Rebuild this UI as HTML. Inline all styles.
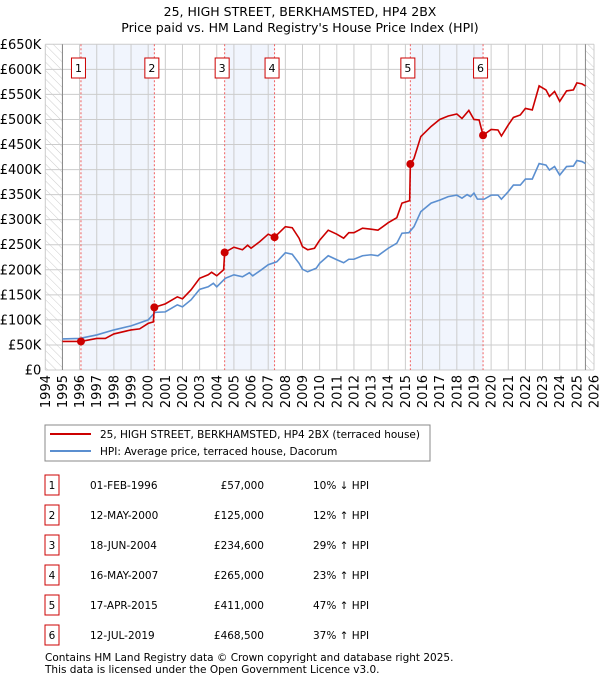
<!DOCTYPE html>
<html><head><meta charset="utf-8"><style>
body{margin:0;background:#fff;width:600px;height:680px;overflow:hidden;font-family:"DejaVu Sans","Liberation Sans",sans-serif;}
svg{display:block}
text{font-family:"DejaVu Sans","Liberation Sans",sans-serif;fill:#000}
</style></head><body>
<svg id="chart" width="600" height="680" xmlns="http://www.w3.org/2000/svg">
<defs><pattern id="hatch" width="6" height="6" patternUnits="userSpaceOnUse" patternTransform="rotate(-45)"><line x1="0" y1="0" x2="0" y2="6" stroke="#ccc" stroke-width="1"/></pattern></defs>
<text x="300" y="16" text-anchor="middle" font-size="12.5">25, HIGH STREET, BERKHAMSTED, HP4 2BX</text>
<text x="300" y="32" text-anchor="middle" font-size="12.5">Price paid vs. HM Land Registry's House Price Index (HPI)</text>
<g id="plot"></g>
<g>
<rect x="45" y="425" width="385" height="36" fill="#fff" stroke="#888"/>
<line x1="50" y1="434" x2="91" y2="434" stroke="#cc0000" stroke-width="2"/>
<text x="100" y="438" font-size="10.5">25, HIGH STREET, BERKHAMSTED, HP4 2BX (terraced house)</text>
<line x1="50" y1="451" x2="91" y2="451" stroke="#5b8fd0" stroke-width="2"/>
<text x="100" y="455" font-size="10.5">HPI: Average price, terraced house, Dacorum</text>
</g>
<g id="table"></g>
<text x="45" y="661" font-size="10.5" fill="#333">Contains HM Land Registry data © Crown copyright and database right 2025.</text>
<text x="45" y="673" font-size="10.5" fill="#333">This data is licensed under the Open Government Licence v3.0.</text>
</svg>
<script>
const hpiYears=[1995,1996,1997,1998,1999,2000,2000.4,2001,2001.7,2002,2002.5,2003,2003.5,2003.8,2004,2004.5,2005,2005.5,2005.9,2006.1,2006.6,2007,2007.5,2008,2008.4,2008.8,2009,2009.3,2009.8,2010,2010.5,2011,2011.4,2011.7,2012,2012.5,2013,2013.4,2014,2014.5,2014.8,2015.2,2015.5,2015.9,2016.5,2017,2017.5,2018,2018.3,2018.6,2018.8,2019,2019.2,2019.6,2020,2020.4,2020.6,2021,2021.3,2021.7,2022,2022.4,2022.8,2023.2,2023.4,2023.7,2024,2024.4,2024.8,2025,2025.3,2025.5];
const hpiValues=[62,63,70,80,88,100,115,116,130,126,140,161,166,173,166,183,190,186,194,188,200,210,216,234,231,213,201,196,203,213,228,220,214,221,221,228,230,228,243,253,273,274,286,316,333,339,346,349,343,350,346,353,341,341,349,349,341,356,369,369,381,381,412,409,399,406,389,406,407,418,416,412];
const priceYears=[1995,1996.08,1997,1997.5,1998,1999,1999.5,2000,2000.3,2000.36,2001,2001.7,2002,2002.5,2003,2003.5,2003.7,2004,2004.4,2004.46,2005,2005.5,2005.8,2006,2006.5,2007,2007.37,2008,2008.4,2008.8,2009,2009.3,2009.7,2010,2010.5,2011,2011.4,2011.7,2012,2012.5,2013,2013.4,2014,2014.5,2014.8,2015.25,2015.29,2015.5,2015.9,2016.5,2017,2017.5,2018,2018.3,2018.7,2019,2019.3,2019.45,2019.53,2020,2020.4,2020.6,2021,2021.3,2021.7,2022,2022.4,2022.8,2023.2,2023.4,2023.7,2024,2024.4,2024.8,2025,2025.3,2025.5];
const priceValues=[57,57,63,63,72,80,82,93,96,125,132,146,142,160,183,190,195,188,200,234.6,245,240,249,243,256,271,265,286,284,263,246,240,243,259,279,271,263,274,274,283,281,279,294,304,333,338,411,422,466,486,500,507,511,502,518,500,499,479,468.5,480,479,467,489,504,509,522,519,567,559,546,556,536,557,559,573,571,567];
const saleLabels=["1","2","3","4","5","6"];
const saleYears=[1996.08,2000.36,2004.46,2007.37,2015.29,2019.53];
const saleValues=[57,125,234.6,265,411,468.5];
const saleDates=["01-FEB-1996","12-MAY-2000","18-JUN-2004","16-MAY-2007","17-APR-2015","12-JUL-2019"];
const salePrices=["£57,000","£125,000","£234,600","£265,000","£411,000","£468,500"];
const saleHpi=["10% ↓ HPI","12% ↑ HPI","29% ↑ HPI","23% ↑ HPI","47% ↑ HPI","37% ↑ HPI"];
const yTicks=[0,50,100,150,200,250,300,350,400,450,500,550,600,650];
const yTickLabels=["£0","£50K","£100K","£150K","£200K","£250K","£300K","£350K","£400K","£450K","£500K","£550K","£600K","£650K"];
const xTicks=[1994,1995,1996,1997,1998,1999,2000,2001,2002,2003,2004,2005,2006,2007,2008,2009,2010,2011,2012,2013,2014,2015,2016,2017,2018,2019,2020,2021,2022,2023,2024,2025,2026];

const X0=45.3,X1=594,Y0=370,Y1=44.3;
const xs=y=>X0+(y-1994)/32*(X1-X0);
const ys=v=>Y0-v/650*(Y0-Y1);
const NS="http://www.w3.org/2000/svg";
const plot=document.getElementById('plot');
function mk(tag,attrs,parent){const e=document.createElementNS(NS,tag);for(const k in attrs)e.setAttribute(k,attrs[k]);(parent||plot).appendChild(e);return e;}

for(let i=0;i<6;i+=2){
  const r=mk('rect',{x:xs(saleYears[i]),y:Y1,width:xs(saleYears[i+1])-xs(saleYears[i]),height:Y0-Y1,fill:'#eef3fc',opacity:0.8});
  
  
}
let h1=mk('rect',{x:X0,y:Y1,width:xs(1995)-X0,height:Y0-Y1,fill:'url(#hatch)'});


let h2=mk('rect',{x:xs(2025.5),y:Y1,width:X1-xs(2025.5),height:Y0-Y1,fill:'url(#hatch)'});


yTicks.forEach((v,i)=>{
  const l=mk('line',{x1:X0,x2:X1,y1:ys(v),y2:ys(v),stroke:'#ccc','stroke-width':1});
  
  
  const t=mk('text',{x:X0-4,y:ys(v)+4.5,'text-anchor':'end','font-size':13});
  t.textContent=yTickLabels[i];
  
  
});
xTicks.forEach(yr=>{
  const l=mk('line',{x1:xs(yr),x2:xs(yr),y1:Y1,y2:Y0,stroke:'#ccc','stroke-width':1});
  
  
  const t=mk('text',{x:0,y:0,'text-anchor':'end','font-size':13,transform:`translate(${xs(yr)+4.5},${Y0+5}) rotate(-90)`});
  t.textContent=yr;
  
  
});
const axL=mk('line',{x1:xs(1995),x2:xs(1995),y1:Y1,y2:Y0,stroke:'#888'});


const axR=mk('line',{x1:xs(2025.5),x2:xs(2025.5),y1:Y1,y2:Y0,stroke:'#888'});


saleYears.forEach((yr,i)=>{
  const l=mk('line',{x1:xs(yr),x2:xs(yr),y1:Y1,y2:Y0,stroke:'#f06060','stroke-width':1,'stroke-dasharray':'2,2'});
  
  
});
const hp=mk('polyline',{points:hpiYears.map((y,i)=>xs(y)+','+ys(hpiValues[i])).join(' '),fill:'none',stroke:'#5b8fd0','stroke-width':1.6});


const pp=mk('polyline',{points:priceYears.map((y,i)=>xs(y)+','+ys(priceValues[i])).join(' '),fill:'none',stroke:'#cc0000','stroke-width':1.6});


saleYears.forEach((yr,i)=>{
  const c=mk('circle',{cx:xs(yr),cy:ys(saleValues[i]),r:4,fill:'#cc0000'});
  
  
  const b=mk('rect',{x:xs(yr)-9.5,y:58,width:14,height:20,fill:'#fff',stroke:'#cc0000'});
  
  
  const t=mk('text',{x:xs(yr)-2.5,y:72,'text-anchor':'middle','font-size':11});
  t.textContent=saleLabels[i];
  
  
});
const tb=document.getElementById('table');
saleLabels.forEach((s,i)=>{
  const y=485+i*30;
  const g=mk('g',{},tb);
  
  
  mk('rect',{x:45,y:y-10,width:14,height:20,fill:'#fff',stroke:'#cc0000'},g);
  let t=mk('text',{x:52,y:y+4,'text-anchor':'middle','font-size':10.5},g);t.textContent=s;
  t=mk('text',{x:90,y:y+4,'font-size':10.5},g);t.textContent=saleDates[i];
  t=mk('text',{x:264,y:y+4,'text-anchor':'end','font-size':10.5},g);t.textContent=salePrices[i];
  t=mk('text',{x:313,y:y+4,'font-size':10.5},g);t.textContent=saleHpi[i];
});
</script>
</body></html>
